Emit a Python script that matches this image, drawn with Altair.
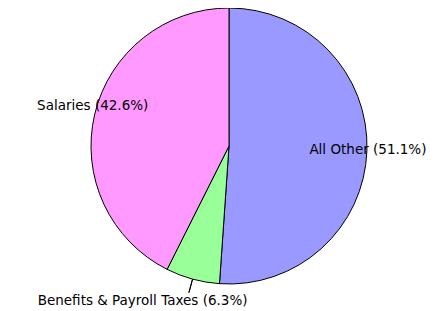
import altair as alt
import pandas as pd

categories = ["All Other", "Benefits & Payroll Taxes", "Salaries"]
values = [51.1, 6.3, 42.6]
colors = ["#9999FF", "#99FF99", "#FF99FF"]
order = [0, 1, 2]

df = pd.DataFrame({"category": categories, "value": values, "order": order})
df["label"] = [f"{c} ({v}%)" for c, v in zip(categories, values)]

CX, CY, R = 221, 138, 138
FONT = "DejaVu Sans"
FS = 13.5

base = alt.Chart(df).transform_stack(
    stack="value", groupby=[], as_=["start", "end"],
    sort=[alt.SortField("order", order="ascending")]
).transform_calculate(mid="(datum.start + datum.end) / 2")

theta_scale = alt.Scale(domain=[0, 100])

pie = base.mark_arc(stroke="black", strokeWidth=1).encode(
    theta=alt.Theta("start:Q", scale=theta_scale),
    theta2="end:Q",
    color=alt.Color("category:N", scale=alt.Scale(domain=categories, range=colors), legend=None),
    x=alt.value(CX), y=alt.value(CY),
    radius=alt.value(R),
)

leader = base.transform_filter(alt.datum.category == "Benefits & Payroll Taxes").transform_calculate(
    mid2="datum.mid + 0.001"
).mark_arc(stroke="black", strokeWidth=1, fill="black").encode(
    theta=alt.Theta("mid:Q", scale=theta_scale),
    theta2="mid2:Q",
    x=alt.value(CX), y=alt.value(CY),
    radius=alt.value(R), radius2=alt.value(R + 14),
)

def label(cat, dx, dy):
    return base.transform_filter(alt.datum.category == cat).mark_text(
        font=FONT, fontSize=FS, color="black", align="center", baseline="middle", dx=dx, dy=dy
    ).encode(
        theta=alt.Theta("mid:Q", scale=theta_scale),
        radius=alt.value(R),
        x=alt.value(CX), y=alt.value(CY),
        text="label:N",
    )

chart = alt.layer(
    pie, leader,
    label("All Other", 1, -1),
    label("Salaries", -2, -8),
    label("Benefits & Payroll Taxes", -50, 22),
).properties(
    width=420, height=302, padding=0,
    autosize=alt.AutoSizeParams(type="none"),
).configure_view(stroke=None)

chart.save("out.html", embed_options={"renderer": "svg", "actions": False})
